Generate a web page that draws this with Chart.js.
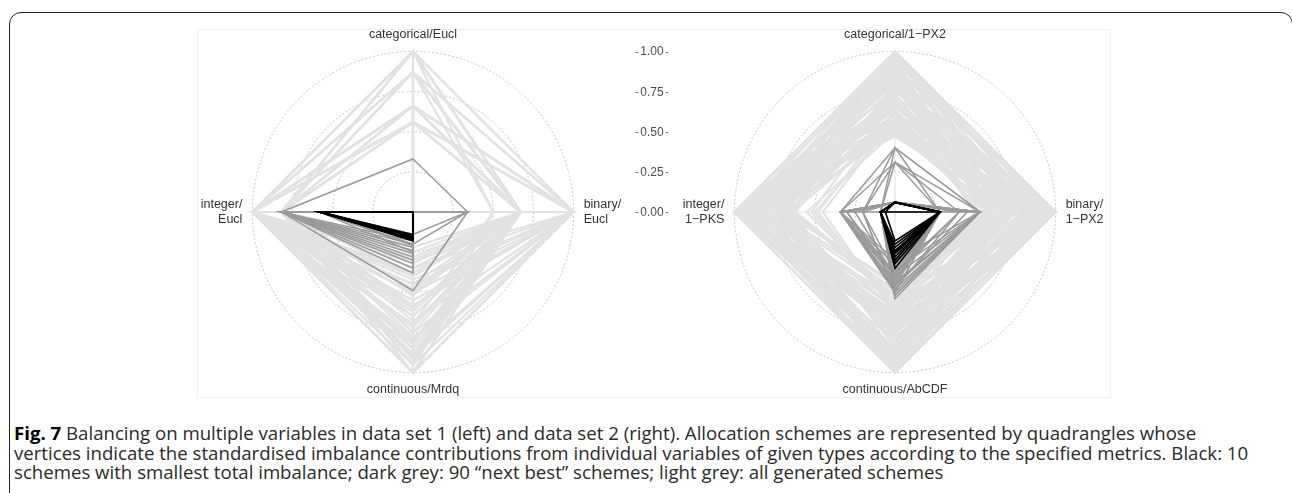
<!DOCTYPE html>
<html>
<head>
<meta charset="utf-8">
<script src="https://cdn.jsdelivr.net/npm/chart.js@4.4.0/dist/chart.umd.min.js"></script>
<style>
  html, body { margin: 0; padding: 0; background: #fff; }
  body { width: 1292px; height: 493px; position: relative; overflow: hidden; font-family: 'Liberation Sans', Arial, sans-serif; }
  #frame { position: absolute; left: 9px; top: 12px; width: 1284px; height: 600px; box-sizing: border-box; border: 1.6px solid #222; border-radius: 12px; }
  #panel { position: absolute; left: 197px; top: 29px; width: 914px; height: 369px; box-sizing: border-box; border: 1px solid #f0f0f0; }
  .chartbox { position: absolute; top: 27px; width: 500px; height: 370px; }
  #boxL { left: 163px; }
  #boxR { left: 645px; }
  .tick { position: absolute; left: 652px; transform: translate(-50%, -50%); font-size: 12px; color: #4d4d4d; white-space: nowrap; z-index: 5; }
  .tick i { display: inline-block; width: 3px; height: 1px; background: #808080; vertical-align: middle; margin: 0 2px; }
  #cap { position: absolute; left: 14px; top: 423px; font-family: 'Open Sans', sans-serif; font-size: 17px; line-height: 19.5px; color: #2a2a2a; }
  #cap div { white-space: nowrap; }
  #cap b { color: #000; }
</style>
</head>
<body>
<div id="frame"></div>
<div id="panel"></div>
<div class="chartbox" id="boxL"><canvas id="chartL" width="500" height="370"></canvas></div>
<div class="chartbox" id="boxR"><canvas id="chartR" width="500" height="370"></canvas></div>
<div id="cap">
  <div><span><b>Fig. 7</b> Balancing on multiple variables in data set 1 (left) and data set 2 (right). Allocation schemes are represented by quadrangles whose</span></div>
  <div><span id="capLine2">vertices indicate the standardised imbalance contributions from individual variables of given types according to the specified metrics. Black: 10</span></div>
  <div><span>schemes with smallest total imbalance; dark grey: 90 “next best” schemes; light grey: all generated schemes</span></div>
</div>
<script>
const axisLabelsL = ['categorical/Eucl', ['binary/', 'Eucl'], 'continuous/Mrdq', ['integer/', 'Eucl']];
const axisLabelsR = ['categorical/1−PX2', ['binary/', '1−PX2'], 'continuous/AbCDF', ['integer/', '1−PKS']];
const tickValues = [0, 0.25, 0.5, 0.75, 1];

// every row: [categorical, binary, continuous, integer]
const set1All = [
  [1.00, 0.67, 1.00, 1.00], [1.00, 1.00, 1.00, 1.00], [1.00, 0.67, 0.85, 0.82], [1.00, 0.00, 1.00, 1.00],
  [1.00, 0.67, 0.60, 1.00], [0.87, 0.67, 1.00, 1.00], [0.87, 1.00, 0.75, 0.82], [0.87, 0.67, 0.45, 1.00],
  [0.87, 0.00, 0.90, 0.82], [0.66, 0.67, 1.00, 1.00], [0.66, 1.00, 1.00, 0.82], [0.66, 0.67, 0.70, 1.00],
  [0.66, 0.67, 0.35, 0.82], [0.66, 1.00, 0.55, 1.00], [0.56, 0.67, 1.00, 1.00], [0.56, 1.00, 0.95, 0.82],
  [0.56, 0.67, 0.80, 1.00], [0.56, 0.67, 0.40, 0.82], [0.56, 1.00, 0.30, 1.00], [0.00, 0.67, 1.00, 1.00],
  [0.00, 1.00, 0.90, 0.82], [0.00, 0.67, 0.65, 1.00], [1.00, 0.67, 0.30, 0.82], [0.87, 1.00, 1.00, 1.00],
  [0.66, 0.00, 1.00, 0.82], [0.56, 0.00, 0.85, 1.00], [1.00, 1.00, 0.50, 1.00], [0.66, 0.67, 0.92, 0.82],
  [0.56, 0.67, 0.62, 1.00], [0.87, 0.67, 0.25, 0.82], [0.66, 1.00, 0.78, 1.00], [0.56, 1.00, 1.00, 1.00],
  [1.00, 0.67, 0.72, 1.00], [0.87, 0.67, 0.88, 1.00], [0.66, 0.67, 0.50, 1.00], [0.56, 0.67, 0.22, 0.82],
  [0.00, 0.67, 0.40, 1.00], [0.66, 0.00, 0.58, 1.00], [1.00, 0.67, 0.95, 0.82], [0.56, 1.00, 0.68, 0.82],
  [0.87, 1.00, 0.42, 1.00], [0.66, 0.67, 0.28, 1.00], [0.56, 0.67, 0.52, 0.82], [1.00, 0.00, 0.78, 0.82],
  [0.66, 1.00, 0.35, 0.82], [0.87, 0.67, 0.65, 0.82], [0.56, 0.67, 0.90, 1.00], [0.66, 0.67, 0.82, 1.00],
  [0.00, 1.00, 0.55, 1.00], [1.00, 0.67, 0.38, 1.00], [0.87, 0.50, 0.70, 1.00], [1.00, 0.50, 0.95, 1.00],
  [0.66, 0.67, 0.60, 0.82], [0.56, 1.00, 0.45, 1.00], [1.00, 0.67, 0.48, 0.82], [0.87, 0.67, 0.32, 1.00],
  [0.66, 1.00, 0.88, 1.00], [0.56, 0.67, 0.75, 0.82], [0.87, 1.00, 0.58, 0.82], [1.00, 0.67, 0.82, 1.00]
];
const set1Next = [
  [0.33, 0.34, 0.49, 0.82], [0.00, 0.34, 0.14, 0.58], [0.00, 0.00, 0.18, 0.82], [0.00, 0.00, 0.20, 0.82],
  [0.00, 0.00, 0.22, 0.82], [0.00, 0.00, 0.24, 0.82], [0.00, 0.00, 0.26, 0.82], [0.00, 0.00, 0.28, 0.82],
  [0.00, 0.00, 0.30, 0.82], [0.00, 0.00, 0.32, 0.82], [0.00, 0.00, 0.35, 0.82], [0.00, 0.00, 0.38, 0.82],
  [0.00, 0.00, 0.21, 0.58], [0.00, 0.00, 0.25, 0.58], [0.00, 0.34, 0.20, 0.58]
];
const set1Best = [
  [0, 0, 0.14, 0.58], [0, 0, 0.15, 0.58], [0, 0, 0.155, 0.58], [0, 0, 0.16, 0.58], [0, 0, 0.165, 0.58],
  [0, 0, 0.17, 0.58], [0, 0, 0.175, 0.58], [0, 0, 0.18, 0.58], [0, 0, 0.16, 0.57], [0, 0, 0.15, 0.57]
];

const set2All = [
  [1.00, 1.00, 1.00, 1.00], [1.00, 0.90, 0.85, 1.00], [1.00, 1.00, 0.70, 0.90], [0.95, 0.85, 1.00, 1.00],
  [0.90, 1.00, 0.95, 0.80], [0.85, 0.75, 0.80, 1.00], [0.80, 1.00, 1.00, 0.95], [0.75, 0.90, 0.65, 1.00],
  [0.70, 0.80, 0.90, 0.85], [0.65, 1.00, 0.75, 0.90], [0.60, 0.70, 1.00, 1.00], [0.55, 0.95, 0.60, 0.75],
  [0.50, 0.65, 0.85, 0.95], [1.00, 0.70, 0.95, 0.70], [1.00, 0.80, 0.60, 0.85], [0.95, 1.00, 0.80, 0.65],
  [0.90, 0.60, 0.70, 0.95], [0.85, 0.95, 1.00, 0.75], [0.80, 0.65, 0.55, 0.90], [0.75, 1.00, 0.90, 1.00],
  [0.70, 0.75, 0.70, 0.70], [0.65, 0.85, 1.00, 0.80], [0.60, 1.00, 0.85, 1.00], [0.55, 0.70, 0.75, 0.85],
  [0.50, 0.90, 0.95, 0.70], [1.00, 0.95, 0.75, 0.80], [1.00, 0.65, 1.00, 0.95], [0.92, 0.80, 0.90, 0.90],
  [0.88, 0.70, 0.65, 0.80], [0.82, 0.90, 0.58, 1.00], [0.78, 0.60, 0.95, 0.85], [0.72, 1.00, 0.68, 0.75],
  [0.68, 0.68, 0.88, 1.00], [0.62, 0.88, 0.78, 0.65], [0.58, 0.78, 0.98, 0.92], [0.52, 1.00, 0.72, 0.88],
  [0.47, 0.75, 0.62, 1.00], [1.00, 0.85, 0.52, 0.75], [0.97, 0.72, 0.82, 0.68], [0.93, 0.98, 0.62, 0.92],
  [0.86, 0.62, 0.92, 0.72], [0.83, 0.82, 0.72, 0.98], [0.76, 0.94, 0.84, 0.66], [0.73, 0.66, 0.66, 0.82],
  [0.66, 0.96, 0.96, 0.86], [0.63, 0.74, 0.58, 0.94], [0.57, 0.84, 0.86, 0.78], [0.53, 0.62, 0.70, 0.68],
  [0.48, 0.86, 0.80, 0.96], [1.00, 0.76, 0.66, 1.00], [0.98, 0.92, 0.94, 0.86], [0.91, 0.68, 0.76, 0.76],
  [0.87, 0.88, 0.54, 0.84], [0.81, 0.72, 0.86, 0.92], [0.77, 0.84, 0.74, 0.72], [0.71, 0.64, 0.96, 0.96],
  [0.67, 0.92, 0.64, 0.84], [0.61, 0.80, 0.92, 0.74], [0.56, 0.68, 0.68, 0.98], [0.51, 0.96, 0.88, 0.82],
  [0.62, 0.58, 0.46, 0.66], [0.78, 0.66, 0.50, 0.62], [0.88, 0.56, 0.44, 0.70], [0.54, 0.62, 0.52, 0.64],
  [0.70, 0.60, 0.48, 0.74], [0.95, 0.58, 0.56, 0.62], [0.55, 0.55, 0.58, 0.50], [0.62, 0.52, 0.62, 0.48],
  [0.50, 0.60, 0.55, 0.55], [0.70, 0.50, 0.60, 0.52], [0.58, 0.57, 0.64, 0.45]
];
const set2Next = [
  [0.40, 0.53, 0.45, 0.34], [0.31, 0.28, 0.50, 0.34], [0.40, 0.28, 0.42, 0.09], [0.31, 0.53, 0.54, 0.09],
  [0.06, 0.28, 0.38, 0.34], [0.06, 0.28, 0.42, 0.34], [0.06, 0.28, 0.46, 0.34], [0.06, 0.53, 0.40, 0.34],
  [0.06, 0.53, 0.48, 0.34], [0.06, 0.53, 0.52, 0.09], [0.06, 0.28, 0.44, 0.09], [0.06, 0.28, 0.36, 0.09],
  [0.06, 0.53, 0.36, 0.09], [0.06, 0.28, 0.50, 0.20], [0.06, 0.40, 0.40, 0.25], [0.00, 0.53, 0.50, 0.34],
  [0.06, 0.28, 0.40, 0.30], [0.06, 0.53, 0.44, 0.30], [0.06, 0.40, 0.48, 0.34], [0.31, 0.40, 0.38, 0.20],
  [0.06, 0.53, 0.30, 0.34], [0.06, 0.28, 0.33, 0.34], [0.40, 0.53, 0.52, 0.20], [0.06, 0.45, 0.46, 0.09]
];
const set2Best = [
  [0.06, 0.28, 0.20, 0.09], [0.06, 0.28, 0.22, 0.09], [0.06, 0.28, 0.24, 0.09], [0.06, 0.28, 0.26, 0.09],
  [0.06, 0.28, 0.28, 0.09], [0.06, 0.27, 0.30, 0.09], [0.06, 0.28, 0.32, 0.09], [0.06, 0.28, 0.35, 0.09],
  [0.00, 0.28, 0.25, 0.09], [0.06, 0.28, 0.18, 0.06]
];

Chart.defaults.font.family = "'Liberation Sans', Arial, sans-serif";

function toDatasets(rows, color, width, order) {
  return rows.map(r => ({
    data: r,
    borderColor: color,
    borderWidth: width,
    order: order,
    fill: false,
    pointRadius: 0,
    tension: 0
  }));
}

function radar(id, labels, all, next, best) {
  const ctx = document.getElementById(id);
  return new Chart(ctx, {
    type: 'radar',
    data: {
      labels: labels,
      datasets: [
        ...toDatasets(best, '#000000', 1.7, 0),
        ...toDatasets(next, '#9a9a9a', 1.5, 1),
        ...toDatasets(all, '#e2e2e2', 2.2, 2)
      ]
    },
    options: {
      responsive: false,
      animation: false,
      events: [],
      plugins: { legend: { display: false }, tooltip: { enabled: false } },
      scales: {
        r: {
          min: 0,
          max: 1,
          ticks: { display: false, stepSize: 0.25 },
          grid: { circular: true, color: '#b8b8b8', lineWidth: 0.8 },
          border: { dash: [2, 2] },
          angleLines: { color: '#e4e4e4', lineWidth: 1.2 },
          pointLabels: { padding: 10, color: '#333333', font: { size: 12.5, lineHeight: 1.15 } }
        }
      }
    }
  });
}

const chartL = radar('chartL', axisLabelsL, set1All, set1Next, set1Best);
const chartR = radar('chartR', axisLabelsR, set2All, set2Next, set2Best);

// value scale in the middle, placed with the left chart's radial scale
const rs = chartL.scales.r;
tickValues.forEach(v => {
  const d = document.createElement('div');
  d.className = 'tick';
  d.style.top = (27 + rs.yCenter - rs.getDistanceFromCenterForValue(v)) + 'px';
  d.innerHTML = '<i></i>' + v.toFixed(2) + '<i></i>';
  document.body.appendChild(d);
});

// size the caption so that its second line ends where the reference does
const cap = document.getElementById('cap');
const line2 = document.getElementById('capLine2');
const w2 = line2.getBoundingClientRect().width;
cap.style.fontSize = (17 * 1235 / w2).toFixed(2) + 'px';
</script>
</body>
</html>
